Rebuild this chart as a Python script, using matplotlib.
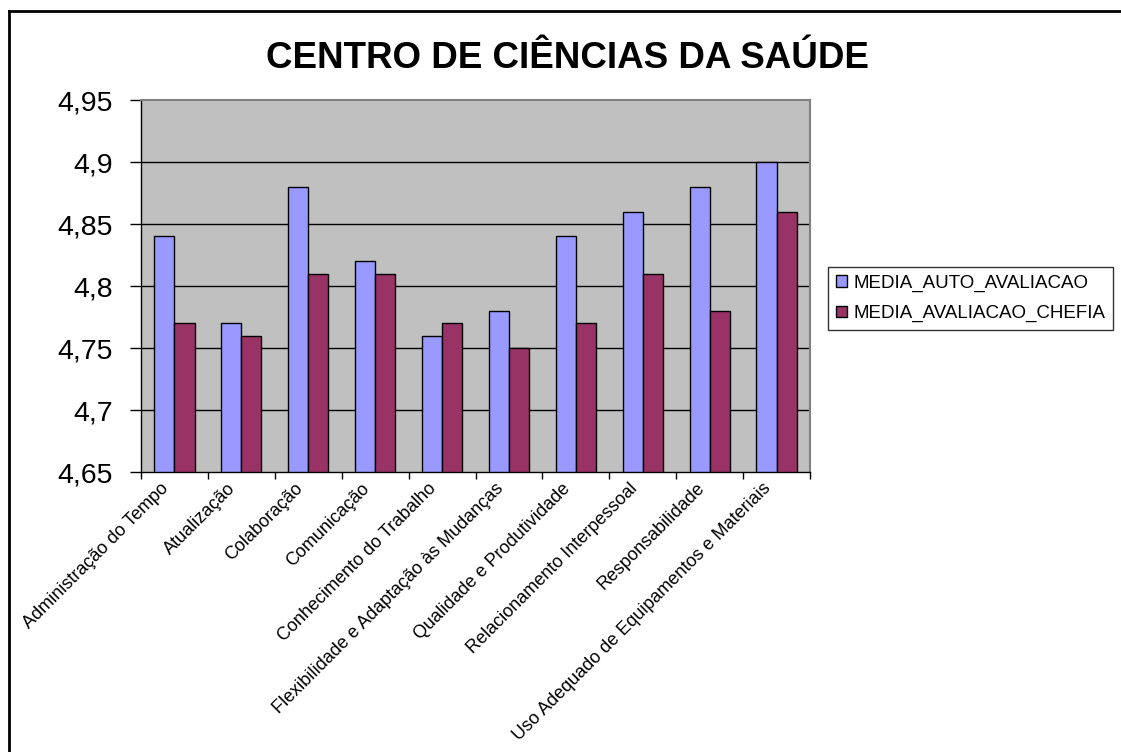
import matplotlib.pyplot as plt
import numpy as np
from matplotlib.lines import Line2D
from matplotlib.ticker import FuncFormatter, FixedLocator
import matplotlib.transforms as mtransforms

categories = ['Administração do Tempo', 'Atualização', 'Colaboração', 'Comunicação',
              'Conhecimento do Trabalho', 'Flexibilidade e Adaptação às Mudanças',
              'Qualidade e Produtividade', 'Relacionamento Interpessoal',
              'Responsabilidade', 'Uso Adequado de Equipamentos e Materiais']
auto_avaliacao = [4.84, 4.77, 4.88, 4.82, 4.76, 4.78, 4.84, 4.86, 4.88, 4.90]
avaliacao_chefia = [4.77, 4.76, 4.81, 4.81, 4.77, 4.75, 4.77, 4.81, 4.78, 4.86]
series_names = ['MEDIA_AUTO_AVALIACAO', 'MEDIA_AVALIACAO_CHEFIA']

plt.rcParams['font.family'] = ['Liberation Sans', 'DejaVu Sans']

fig = plt.figure(figsize=(11.21, 7.52), dpi=100)
W, H = 1121, 752
ax = fig.add_axes([141 / W, 1 - 472 / H, (810 - 141) / W, (472 - 100) / H])

# outer chart border (top and left only visible)
fig.add_artist(Line2D([9 / W, 1.0], [1 - 11 / H, 1 - 11 / H], transform=fig.transFigure,
                      color='black', linewidth=2))
fig.add_artist(Line2D([9 / W, 9 / W], [0, 1 - 11 / H], transform=fig.transFigure,
                      color='black', linewidth=2))

x = np.arange(len(categories))
bw = 0.3
ax.bar(x - bw / 2, np.array(auto_avaliacao) - 4.65, bw, bottom=4.65, color='#9999FF',
       edgecolor='black', linewidth=1, label=series_names[0], zorder=3)
ax.bar(x + bw / 2, np.array(avaliacao_chefia) - 4.65, bw, bottom=4.65, color='#993366',
       edgecolor='black', linewidth=1, label=series_names[1], zorder=3)

ax.set_facecolor('#C0C0C0')
ax.set_xlim(-0.5, len(categories) - 0.5)
ax.set_ylim(4.65, 4.95)
ax.set_yticks(np.arange(4.65, 4.951, 0.05))
ax.yaxis.set_major_formatter(FuncFormatter(lambda v, p: f'{round(v, 2):g}'.replace('.', ',')))
ax.tick_params(axis='y', labelsize=20.5, length=8, width=1, direction='out', pad=12)
for yv in [4.7, 4.75, 4.8, 4.85, 4.9]:
    ax.axhline(yv, color='black', linewidth=1, zorder=1)

ax.xaxis.set_major_locator(FixedLocator(np.arange(-0.5, len(categories), 1.0)))
ax.xaxis.set_minor_locator(FixedLocator(x))
ax.set_xticklabels([])
ax.set_xticklabels(categories, minor=True, rotation=45, ha='right', va='center',
                   rotation_mode='anchor', fontsize=13)
ax.tick_params(axis='x', which='major', length=5, width=1, direction='out')
ax.tick_params(axis='x', which='minor', length=0, pad=10)
shift = mtransforms.ScaledTranslation(-8 / 100, 0, fig.dpi_scale_trans)
for lbl in ax.get_xticklabels(minor=True):
    lbl.set_transform(lbl.get_transform() + shift)

for s in ['top', 'right']:
    ax.spines[s].set_color('#808080')
    ax.spines[s].set_linewidth(1.5)
for s in ['left', 'bottom']:
    ax.spines[s].set_color('black')
    ax.spines[s].set_linewidth(1)

fig.text(567 / W, 1 - 59 / H, 'CENTRO DE CIÊNCIAS DA SAÚDE',
         ha='center', va='center', fontsize=26.5, fontweight='bold')

leg = fig.legend(loc='center left', bbox_to_anchor=(828 / W, 1 - 298.5 / H),
                 fontsize=13.5, frameon=True, fancybox=False, handlelength=0.6,
                 handleheight=0.6, handletextpad=0.35, borderpad=0.4,
                 labelspacing=0.7, borderaxespad=0)
leg.get_frame().set_edgecolor('black')
leg.get_frame().set_linewidth(1)

fig.savefig('out.png', dpi=100)
